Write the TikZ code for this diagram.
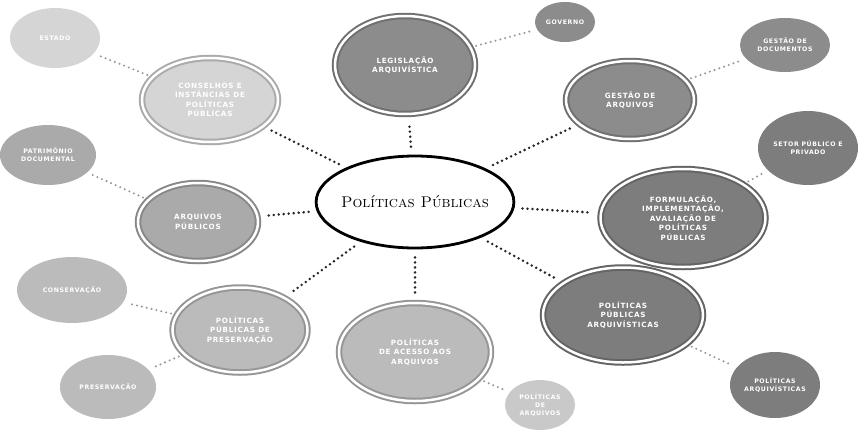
\documentclass[tikz,border=0pt]{standalone}
\usepackage{fontspec}
\setsansfont{DejaVu Sans}[LetterSpace=10]
\usetikzlibrary{shapes.geometric}

\definecolor{gdark}{HTML}{8C8C8C}
\definecolor{gdeep}{HTML}{7D7D7D}
\definecolor{gmid}{HTML}{AAAAAA}
\definecolor{glight}{HTML}{BBBBBB}
\definecolor{gpale}{HTML}{C9C9C9}
\definecolor{gfaint}{HTML}{D5D5D5}

\tikzset{
  ring/.style={ellipse, fill=#1, draw=#1!80!black, double=white, double distance=2.5pt,
    line width=2pt, text=white, align=center, inner sep=-6pt,
    font=\sffamily\bfseries\fontsize{7.2}{9.5}\selectfont},
  leaf/.style={ellipse, fill=#1, text=white, align=center, inner sep=-6pt,
    font=\sffamily\bfseries\fontsize{6.2}{8}\selectfont},
  hub/.style={ellipse, draw=black, line width=2.8pt, fill=white, inner sep=-4pt,
    font=\fontsize{15.5}{18}\selectfont\scshape},
  link/.style={draw=black!85, line width=2.8pt, dash pattern=on 0pt off 5pt,
    line cap=round, shorten >=8pt, shorten <=8pt},
  twig/.style={link, draw=black!40, line width=2.3pt, shorten >=5pt, shorten <=5pt}
}

\begin{document}
\begin{tikzpicture}[x=1pt,y=-1pt]
  \useasboundingbox (0,0) rectangle (866,434);
  % centre
  \node[hub, minimum width=188, minimum height=92] (pp) at (415,202) {Políticas Públicas};
  % first ring
  \node[ring=gdark, minimum width=140, minimum height=98] (leg) at (405,65) {LEGISLAÇÃO\\ARQUIVÍSTICA};
  \node[ring=gdark, minimum width=128, minimum height=78] (ges) at (630,100) {GESTÃO DE\\ARQUIVOS};
  \node[ring=gdeep, minimum width=165, minimum height=98] (form) at (683,218) {FORMULAÇÃO,\\IMPLEMENTAÇÃO,\\AVALIAÇÃO DE\\POLÍTICAS\\PÚBLICAS};
  \node[ring=gdeep, minimum width=160, minimum height=95] (ppa) at (623,315) {POLÍTICAS\\PÚBLICAS\\ARQUIVÍSTICAS};
  \node[ring=glight, minimum width=152, minimum height=98] (ace) at (415,352) {POLÍTICAS\\DE ACESSO AOS\\ARQUIVOS};
  \node[ring=glight, minimum width=135, minimum height=85] (ppp) at (240,330) {POLÍTICAS\\PÚBLICAS DE\\PRESERVAÇÃO};
  \node[ring=gmid, minimum width=120, minimum height=78] (arq) at (198,222) {ARQUIVOS\\PÚBLICOS};
  \node[ring=gfaint, minimum width=136, minimum height=84] (conc) at (210,100) {CONSELHOS E\\INSTÂNCIAS DE\\POLÍTICAS\\PÚBLICAS};
  % second ring
  \node[leaf=gdark, minimum width=60, minimum height=40] (gov) at (565,22) {GOVERNO};
  \node[leaf=gdark, minimum width=90, minimum height=54] (gdoc) at (785,45) {GESTÃO DE\\DOCUMENTOS};
  \node[leaf=gdeep, minimum width=100, minimum height=74] (set) at (808,148) {SETOR PÚBLICO E\\PRIVADO};
  \node[leaf=gdeep, minimum width=90, minimum height=66] (parq) at (775,385) {POLÍTICAS\\ARQUIVÍSTICAS};
  \node[leaf=gpale, minimum width=70, minimum height=50] (dir) at (540,405) {POLÍTICAS\\DE\\ARQUIVOS};
  \node[leaf=glight, minimum width=110, minimum height=66] (cons) at (72,290) {CONSERVAÇÃO};
  \node[leaf=glight, minimum width=96, minimum height=64] (pres) at (108,387) {PRESERVAÇÃO};
  \node[leaf=gmid, minimum width=96, minimum height=60] (pat) at (48,155) {PATRIMÔNIO\\DOCUMENTAL};
  \node[leaf=gfaint, minimum width=90, minimum height=60] (est) at (55,38) {ESTADO};
  % links from the centre
  \draw[link] (pp) -- (leg);
  \draw[link] (pp) -- (ges);
  \draw[link] (pp) -- (form);
  \draw[link] (pp) -- (ppa);
  \draw[link] (pp) -- (ace);
  \draw[link] (pp) -- (ppp);
  \draw[link] (pp) -- (arq);
  \draw[link] (pp) -- (conc);
  % outer links
  \draw[twig] (leg) -- (gov);
  \draw[twig] (ges) -- (gdoc);
  \draw[twig] (form) -- (set);
  \draw[twig] (ppa) -- (parq);
  \draw[twig] (ace) -- (dir);
  \draw[twig] (ppp) -- (cons);
  \draw[twig] (ppp) -- (pres);
  \draw[twig] (arq) -- (pat);
  \draw[twig] (conc) -- (est);
\end{tikzpicture}
\end{document}
